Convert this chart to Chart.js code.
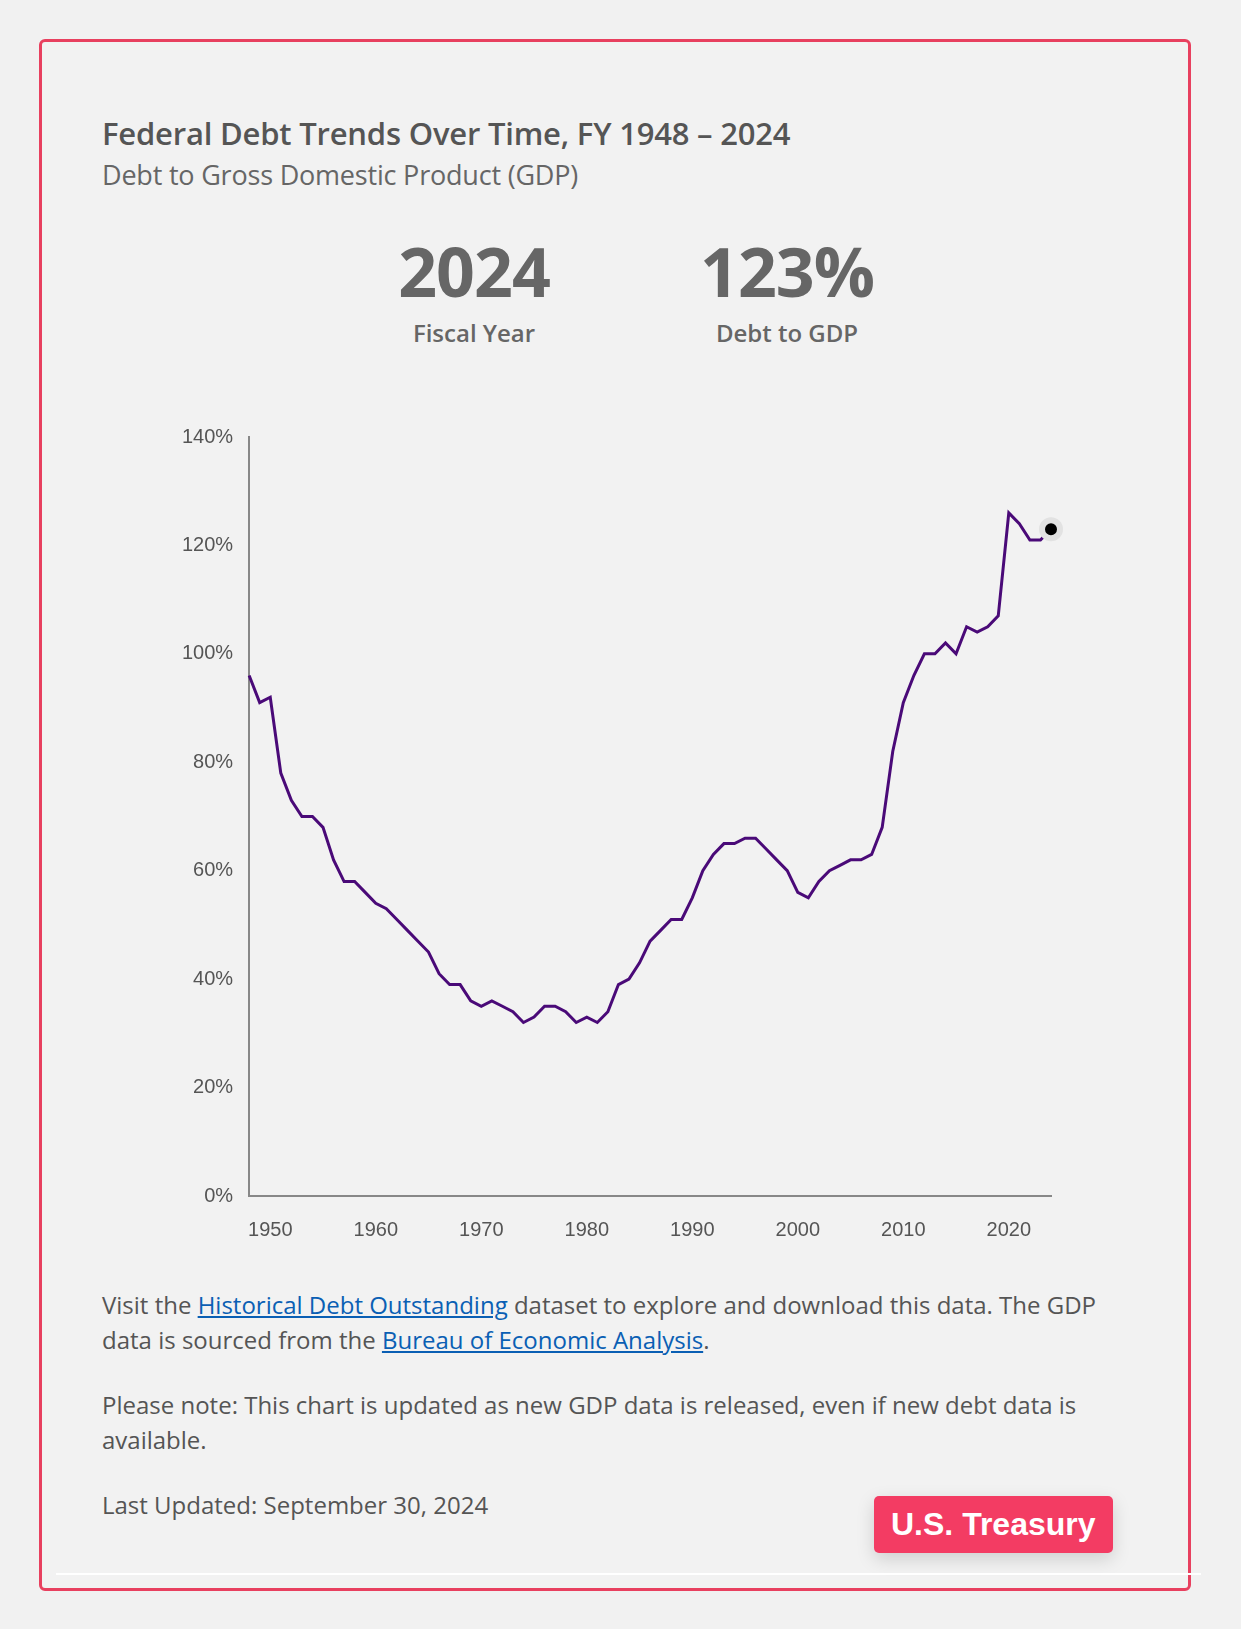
<!DOCTYPE html>
<html>
<head>
<meta charset="utf-8">
<script src="https://cdn.jsdelivr.net/npm/chart.js@4"></script>
<style>
  body { margin: 0; background: #f1f1f1; font-family: "Open Sans", sans-serif; color: #555; }
  .card { position: absolute; left: 39px; top: 39px; width: 1146px; height: 1546px; border: 3px solid #e8405f; border-radius: 6px; background: #f2f2f2; }
  .title { position: absolute; left: 60px; top: 70px; font-size: 31px; font-weight: 600; color: #555; letter-spacing: -0.2px; }
  .sub { position: absolute; left: 60px; top: 114px; font-size: 27px; color: #666; letter-spacing: -0.2px; }
  .stat { position: absolute; top: 190px; text-align: center; width: 300px; }
  .stat .big { font-size: 68px; font-weight: 700; color: #666; line-height: 78px; letter-spacing: -1px; }
  .stat .lbl { font-size: 24px; font-weight: 600; color: #666; margin-top: 6px; }
  .chartbox { position: absolute; left: 132px; top: 375px; width: 897px; height: 839px; }
  .txt { position: absolute; left: 60px; width: 1010px; font-size: 24px; color: #555; line-height: 35px; }
  a { color: #0a5fb4; }
  .badge { position: absolute; left: 832px; top: 1454px; background: #f33c63; color: #fff; font-family: "Liberation Sans", Arial, sans-serif; font-weight: bold; font-size: 32px; padding: 10px 17px; border-radius: 5px; box-shadow: 0 6px 18px rgba(0,0,0,0.15); }
  .rule { position: absolute; left: 56px; top: 1573px; width: 1145px; height: 2px; background: #fff; }
</style>
</head>
<body>
<div class="card">
  <div class="title">Federal Debt Trends Over Time, FY 1948 – 2024</div>
  <div class="sub">Debt to Gross Domestic Product (GDP)</div>
  <div class="stat" style="left:282px"><div class="big">2024</div><div class="lbl">Fiscal Year</div></div>
  <div class="stat" style="left:595px"><div class="big">123%</div><div class="lbl">Debt to GDP</div></div>
  <div class="chartbox"><canvas id="myChart"></canvas></div>
  <div class="txt" style="top:1245px">Visit the <a href="#">Historical Debt Outstanding</a> dataset to explore and download this data. The GDP data is sourced from the <a href="#">Bureau of Economic Analysis</a>.</div>
  <div class="txt" style="top:1345px">Please note: This chart is updated as new GDP data is released, even if new debt data is available.</div>
  <div class="txt" style="top:1445px">Last Updated: September 30, 2024</div>
  <div class="badge">U.S. Treasury</div>
</div>
<div class="rule"></div>
<script>
const ctx = document.getElementById('myChart');

var years = [];
for (let y = 1948; y <= 2024; y++) years.push(y);

var debtToGdp = [
  96, 91, 92, 78, 73, 70, 70, 68, 62, 58, 58, 56, 54, 53, 51, 49, 47, 45, 41, 39,
  39, 36, 35, 36, 35, 34, 32, 33, 35, 35, 34, 32, 33, 32, 34, 39, 40, 43, 47, 49,
  51, 51, 55, 60, 63, 65, 65, 66, 66, 64, 62, 60, 56, 55, 58, 60, 61, 62, 62, 63,
  68, 82, 91, 96, 100, 100, 102, 100, 105, 104, 105, 107, 126, 124, 121, 121, 123
];

var yTicks = [0, 20, 40, 60, 80, 100, 120, 140];
var xTicks = [1950, 1960, 1970, 1980, 1990, 2000, 2010, 2020];

var points = years.map((y, i) => ({ x: y, y: debtToGdp[i] }));
var last = points.length - 1;

new Chart(ctx, {
  type: 'line',
  data: {
    datasets: [{
      data: points,
      borderColor: '#4a0a78',
      borderWidth: 3,
      tension: 0,
      clip: false,
      pointRadius: points.map((p, i) => i === last ? 9 : 0),
      pointBackgroundColor: '#000',
      pointBorderColor: 'rgba(226,226,226,1)',
      pointBorderWidth: 6
    }]
  },
  options: {
    responsive: true,
    maintainAspectRatio: false,
    animation: false,
    layout: { padding: { right: 20, top: 10 } },
    plugins: { legend: { display: false }, tooltip: { enabled: false } },
    scales: {
      x: {
        type: 'linear',
        min: 1948, max: 2024,
        afterBuildTicks: axis => { axis.ticks = xTicks.map(v => ({ value: v })); },
        grid: { display: false, drawTicks: true, tickLength: 8, tickColor: '#888' },
        border: { color: '#888', width: 2 },
        ticks: { color: '#555', font: { family: 'Liberation Sans', size: 20 }, padding: 14, callback: v => String(v) }
      },
      y: {
        min: 0, max: 140,
        afterBuildTicks: axis => { axis.ticks = yTicks.map(v => ({ value: v })); },
        grid: { display: false, drawTicks: true, tickLength: 8, tickColor: '#888' },
        border: { color: '#888', width: 2 },
        ticks: { color: '#555', font: { family: 'Liberation Sans', size: 20 }, padding: 8, callback: v => v + '%' }
      }
    }
  }
});
</script>
</body>
</html>
